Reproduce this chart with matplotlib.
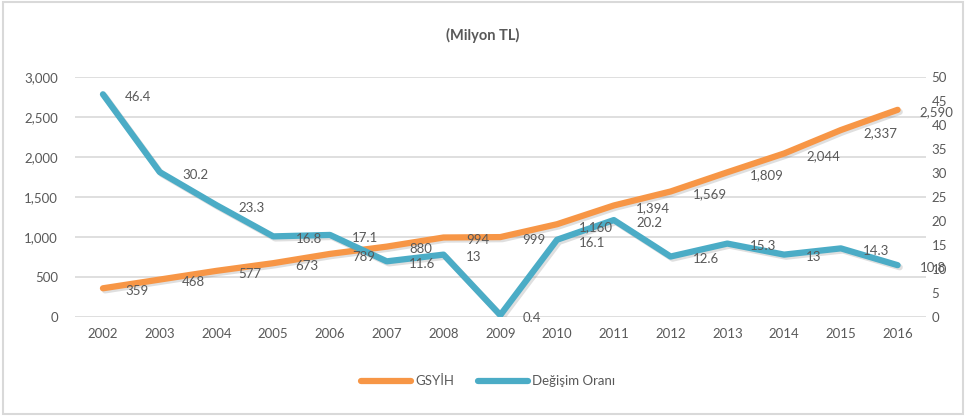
import matplotlib
matplotlib.use("Agg")
import matplotlib.pyplot as plt
import matplotlib.patheffects as pe
from matplotlib.lines import Line2D
from matplotlib.patches import Rectangle

plt.rcParams['font.family'] = ['Lato', 'DejaVu Sans']

years = ['2002', '2003', '2004', '2005', '2006', '2007', '2008', '2009',
         '2010', '2011', '2012', '2013', '2014', '2015', '2016']
gsyih = [359, 468, 577, 673, 789, 880, 994, 999, 1160, 1394, 1569, 1809, 2044, 2337, 2590]
degisim = [46.4, 30.2, 23.3, 16.8, 17.1, 11.6, 13, 0.4, 16.1, 20.2, 12.6, 15.3, 13, 14.3, 10.8]

orange = '#F79646'
blue = '#4BACC6'
txt = '#595959'
grid = '#D9D9D9'

fig = plt.figure(figsize=(9.66, 4.19), dpi=100)
ax = fig.add_axes([0.0772, 0.2434, 0.8814, 0.5728])
ax2 = ax.twinx()

x = list(range(len(years)))
shadow = [pe.SimpleLineShadow(offset=(1.5, -1.5), shadow_color='gray', alpha=0.25), pe.Normal()]

ax.plot(x, gsyih, color=orange, lw=4.5, solid_capstyle='round', solid_joinstyle='round',
        path_effects=shadow, zorder=3)
ax2.plot(x, degisim, color=blue, lw=4.5, solid_capstyle='round', solid_joinstyle='round',
         path_effects=shadow, zorder=3)

# data labels go on the top axes so the lines do not cover them
for xi, v in zip(x, gsyih):
    ax2.annotate(f'{v:,}', (xi, v), xycoords=ax.transData, xytext=(16, -2),
                 textcoords='offset points', ha='left', va='center', fontsize=9.5,
                 color=txt, zorder=5)
for xi, v in zip(x, degisim):
    ax2.annotate(f'{v:g}', (xi, v), xytext=(16, -2), textcoords='offset points',
                 ha='left', va='center', fontsize=9.5, color=txt, zorder=5)

ax.set_xlim(-0.5, len(years) - 0.5)
ax.set_ylim(0, 3000)
ax.set_yticks(range(0, 3001, 500))
ax.set_yticklabels([f'{t:,}' for t in range(0, 3001, 500)])
ax2.set_ylim(0, 50)
ax2.set_yticks(range(0, 51, 5))
ax.set_xticks(x)
ax.set_xticklabels(years)

ax.yaxis.grid(True, color=grid, lw=1.2)
ax.set_axisbelow(True)
for a in (ax, ax2):
    for s in a.spines.values():
        s.set_visible(False)
    a.tick_params(length=0, colors=txt, labelsize=9.5)
ax.tick_params(axis='y', pad=12)
ax.tick_params(axis='x', pad=8)
ax2.tick_params(axis='y', pad=4)

fig.text(0.5, 0.915, '(Milyon TL)', ha='center', va='center', fontsize=10.5,
         fontweight='bold', color=txt)

handles = [Line2D([], [], color=orange, lw=4.5, solid_capstyle='round'),
           Line2D([], [], color=blue, lw=4.5, solid_capstyle='round')]
fig.legend(handles, ['GSYİH', 'Değişim Oranı'], loc='center', bbox_to_anchor=(0.505, 0.09),
           ncol=2, frameon=False, fontsize=9.5, labelcolor=txt, handlelength=3.8,
           columnspacing=1.8, handletextpad=0.3)

fig.patches.append(Rectangle((0.003, 0.012), 0.994, 0.984, transform=fig.transFigure,
                             fill=False, edgecolor=grid, lw=1.5))

fig.savefig('out.png', dpi=100)
